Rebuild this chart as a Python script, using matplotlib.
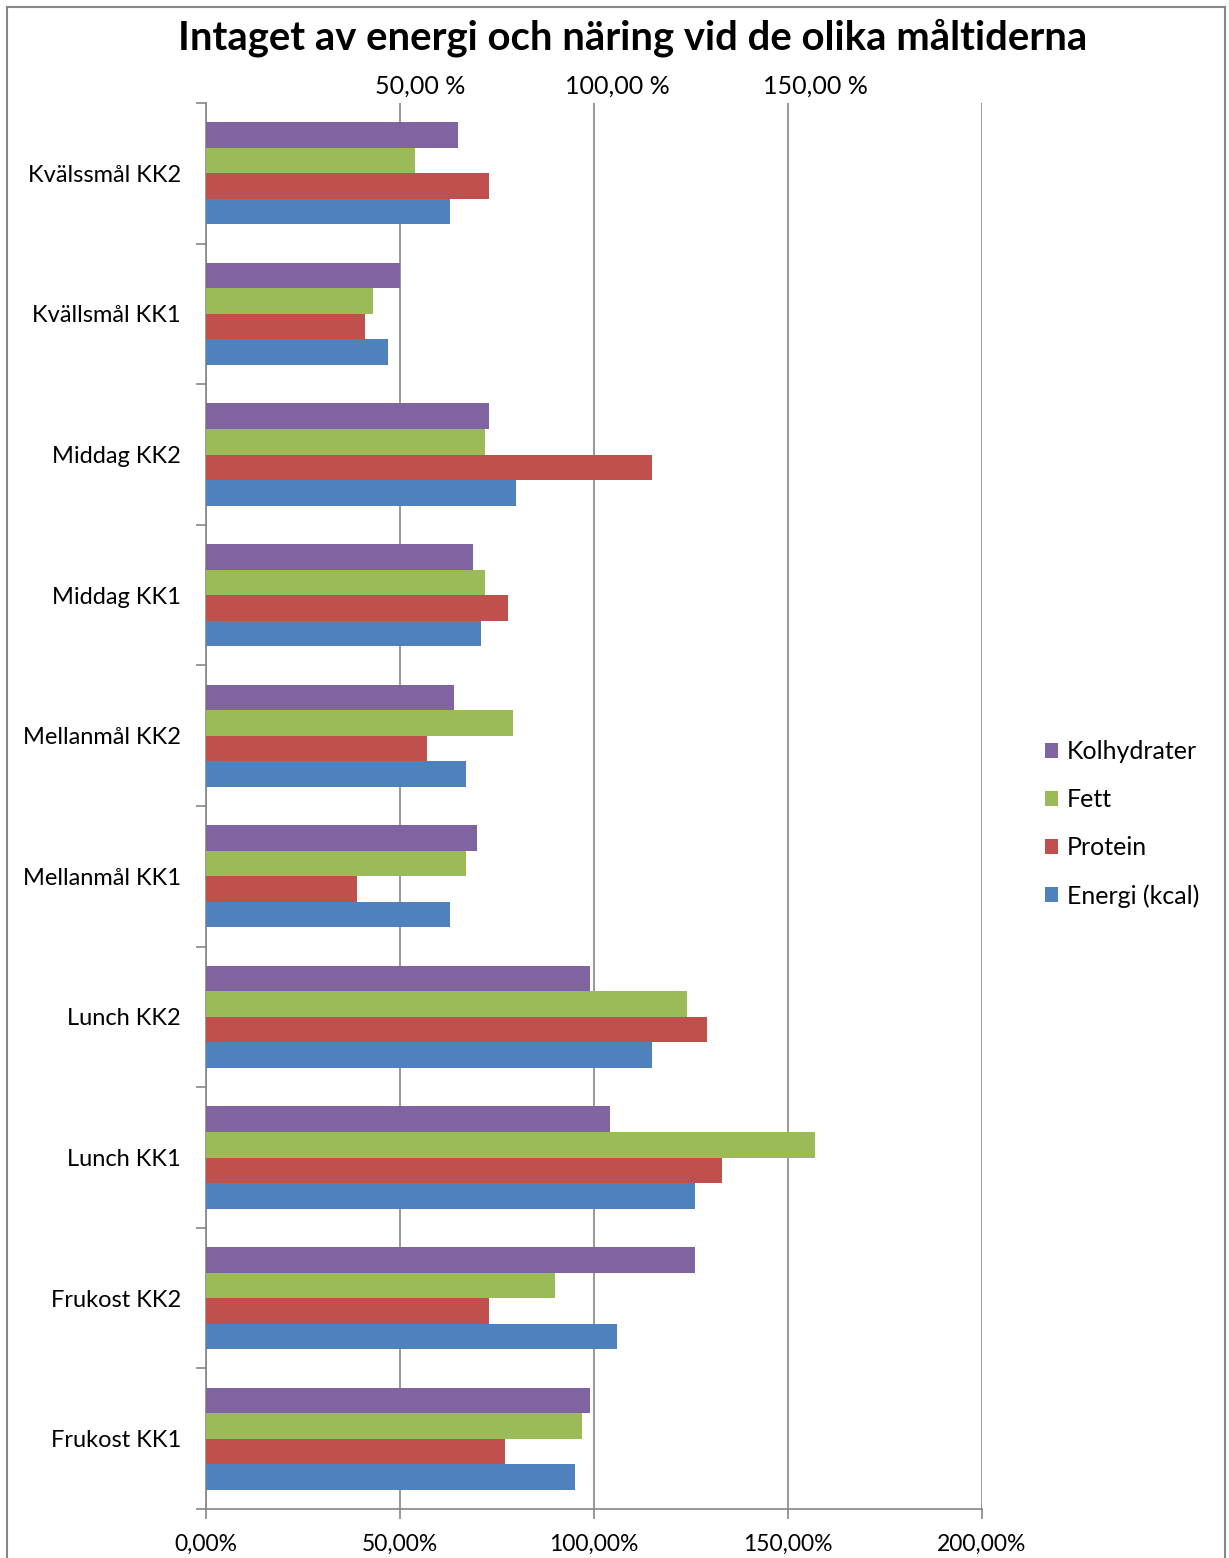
import matplotlib.pyplot as plt
import numpy as np
from matplotlib.patches import Rectangle

plt.rcParams['font.family'] = ['Lato', 'DejaVu Sans']

categories = ['Frukost KK1', 'Frukost KK2', 'Lunch KK1', 'Lunch KK2',
              'Mellanmål KK1', 'Mellanmål KK2', 'Middag KK1', 'Middag KK2',
              'Kvällsmål KK1', 'Kvälssmål KK2']
energi = [95.1, 105.9, 126.0, 114.9, 62.9, 67.0, 70.9, 79.9, 46.9, 62.9]
protein = [77.1, 72.9, 133.0, 129.1, 38.9, 57.0, 77.8, 114.9, 41.0, 72.9]
fett = [96.9, 89.9, 157.0, 124.0, 67.0, 79.1, 71.9, 71.9, 43.0, 53.9]
kolhydrater = [99.0, 126.0, 104.1, 99.0, 69.8, 63.9, 68.8, 72.9, 50.0, 64.9]

x_ticks = [0, 50, 100, 150, 200]
x_labels = ['0,00%', '50,00%', '100,00%', '150,00%', '200,00%']
top_ticks = [50, 100, 150]
top_labels = ['50,00 %', '100,00 %', '150,00 %']

series = [('Energi (kcal)', energi, '#4F81BD'),
          ('Protein', protein, '#C0504D'),
          ('Fett', fett, '#9BBB59'),
          ('Kolhydrater', kolhydrater, '#8064A2')]

W, H = 1229, 1558
fig = plt.figure(figsize=(W / 100, H / 100), dpi=100)
ax = fig.add_axes([206 / W, 1 - 1509 / H, (982 - 206) / W, (1509 - 103) / H])

grey = '#868686'
h = 0.1815
y = np.arange(len(categories))
for i, (name, vals, col) in enumerate(series):
    ax.barh(y + (i - 1.5) * h, vals, height=h, color=col, label=name, zorder=3)

ax.set_xlim(0, 200)
ax.set_ylim(-0.5, len(categories) - 0.5)
ax.set_xticks(x_ticks)
ax.set_xticklabels(x_labels, fontsize=16.5)
ax.tick_params(axis='x', direction='out', length=7, width=1.2, color=grey, pad=11)
ax.grid(axis='x', color=grey, linewidth=1.2, zorder=0)

ax.set_yticks(np.arange(-0.5, len(categories), 1))
ax.set_yticklabels([])
ax.tick_params(axis='y', which='major', direction='out', length=7, width=1.2, color=grey)
ax.set_yticks(y, minor=True)
ax.set_yticklabels(categories, minor=True, fontsize=17)
ax.tick_params(axis='y', which='minor', length=0, pad=18)

for s in ['top', 'right']:
    ax.spines[s].set_visible(False)
for s in ['left', 'bottom']:
    ax.spines[s].set_color(grey)
    ax.spines[s].set_linewidth(1.2)

# secondary top axis labels
top = ax.twiny()
top.set_xlim(-4, 192)
top.set_xticks(top_ticks)
top.set_xticklabels(top_labels, fontsize=18)
top.tick_params(axis='x', length=0, pad=4)
for s in top.spines.values():
    s.set_visible(False)

handles, labels = ax.get_legend_handles_labels()
fig.legend(handles[::-1], labels[::-1], loc='center left',
           bbox_to_anchor=(1022 / W, 1 - 824 / H), frameon=False, fontsize=18,
           handlelength=0.55, handleheight=0.55, handletextpad=0.35, labelspacing=1.0)

fig.text(0.515, 1 - 38 / H, 'Intaget av energi och näring vid de olika måltiderna',
         ha='center', va='center', fontsize=28.8, fontweight='bold')

fig.patches.append(Rectangle((7 / W, -0.05), (1225 - 7) / W, 1.05 - 7 / H,
                             transform=fig.transFigure, fill=False,
                             edgecolor=grey, linewidth=1.5))

fig.savefig('out.png', dpi=100)
